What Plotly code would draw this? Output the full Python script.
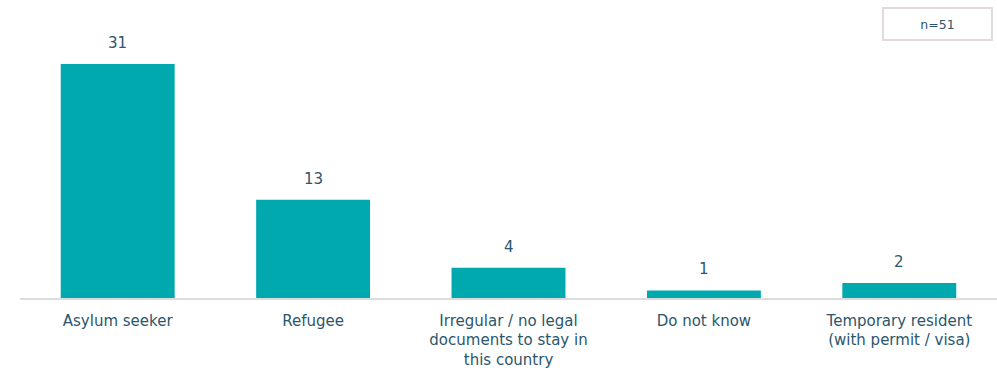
import plotly.graph_objects as go

categories = [
    "Asylum seeker",
    "Refugee",
    "Irregular / no legal<br>documents to stay in<br>this country",
    "Do not know",
    "Temporary resident<br>(with permit / visa)",
]
counts = [31, 13, 4, 1, 2]
sample_note = "n=51"

BAR = "#00a9ad"
TEXT = "#2b566c"
FONT = "DejaVu Sans"

fig = go.Figure(
    go.Bar(
        x=categories,
        y=counts,
        marker=dict(color=BAR, line=dict(width=0)),
        hoverinfo="skip",
    )
)

for cat, val in zip(categories, counts):
    fig.add_annotation(
        x=cat, y=val, text=str(val), showarrow=False,
        yanchor="bottom", yshift=10,
        font=dict(family=FONT, size=15, color=TEXT),
    )

fig.add_annotation(
    xref="paper", yref="paper", x=0.9386, y=0.951,
    text=sample_note, showarrow=False,
    xanchor="center", yanchor="middle",
    width=107, height=30,
    bordercolor="#e2d9da", borderwidth=2, borderpad=0,
    bgcolor="white",
    font=dict(family=FONT, size=12.5, color=TEXT),
)

fig.update_layout(
    width=997, height=368,
    margin=dict(l=20, r=0, t=10, b=70, autoexpand=False),
    paper_bgcolor="white", plot_bgcolor="white",
    bargap=0.417,
    showlegend=False,
    font=dict(family=FONT, size=15, color=TEXT),
)
fig.update_xaxes(
    automargin=False,
    showgrid=False, showline=True, linecolor="#dcdcdc", linewidth=1.5,
    ticks="", ticklabelstandoff=8,
    tickfont=dict(family=FONT, size=15, color=TEXT),
)
fig.update_yaxes(
    automargin=False,
    range=[0, 38.15], showgrid=False, showticklabels=False,
    zeroline=False, showline=False,
)

fig.write_html("out.html")
